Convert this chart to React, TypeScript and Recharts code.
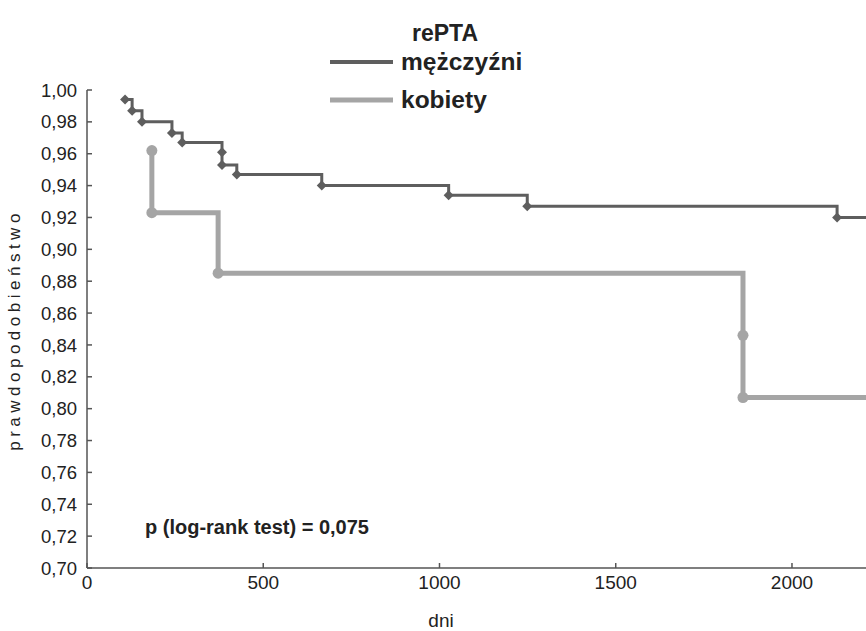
import React from "react";
import { ComposedChart, Line, XAxis, YAxis } from "recharts";

// Kaplan-Meier, rePTA: days vs. survival probability
const MEN_DAYS = [108, 128, 156, 241, 270, 383, 383, 425, 666, 1026, 1249, 2128, 2210];
const MEN_SURV = [0.994, 0.987, 0.98, 0.973, 0.967, 0.961, 0.953, 0.947, 0.94, 0.934, 0.927, 0.92, 0.92];

const WOMEN_DAYS = [184, 184, 372, 1861, 1861, 2210];
const WOMEN_SURV = [0.962, 0.923, 0.885, 0.846, 0.807, 0.807];

const X_TICKS = [0, 500, 1000, 1500, 2000];
const Y_TICKS = [0.7, 0.72, 0.74, 0.76, 0.78, 0.8, 0.82, 0.84, 0.86, 0.88, 0.9, 0.92, 0.94, 0.96, 0.98, 1.0];

const MEN_COLOR = "#5e5e5e";
const WOMEN_COLOR = "#a5a5a5";
const TEXT = "#222";
const FONT = "'Liberation Sans', Arial, sans-serif";

const men = MEN_DAYS.map((d, i) => ({ day: d, s: MEN_SURV[i] }));
const women = WOMEN_DAYS.map((d, i) => ({ day: d, s: WOMEN_SURV[i] }));

const diamondDot = (last: number) => (props: any) => {
  const { cx, cy, index } = props;
  if (index >= last) return <g key={`m${index}`} />;
  return (
    <path
      key={`m${index}`}
      d={`M${cx},${cy - 5} L${cx + 5},${cy} L${cx},${cy + 5} L${cx - 5},${cy} Z`}
      fill={MEN_COLOR}
    />
  );
};

const circleDot = (last: number) => (props: any) => {
  const { cx, cy, index } = props;
  if (index >= last) return <g key={`w${index}`} />;
  return <circle key={`w${index}`} cx={cx} cy={cy} r={5.5} fill={WOMEN_COLOR} />;
};

export default function App() {
  return (
    <div style={{ position: "absolute", left: 0, top: 0, width: 866, height: 631, background: "#fff", fontFamily: FONT }}>
      <ComposedChart width={866} height={631} margin={{ top: 90, right: 0, bottom: 0, left: 0 }}>
        <XAxis
          type="number"
          dataKey="day"
          domain={[0, 2210]}
          ticks={X_TICKS}
          allowDataOverflow
          height={63}
          tickSize={-5}
          tickMargin={13}
          stroke="#555"
          strokeWidth={1.5}
          tick={{ fill: TEXT, fontSize: 19, fontFamily: FONT }}
        />
        <YAxis
          type="number"
          dataKey="s"
          domain={[0.7, 1.0]}
          ticks={Y_TICKS}
          allowDataOverflow
          width={87}
          tickSize={-5}
          tickMargin={15}
          stroke="#555"
          strokeWidth={1.5}
          tickFormatter={(v: number) => v.toFixed(2).replace(".", ",")}
          tick={{ fill: TEXT, fontSize: 18.5, fontFamily: FONT }}
        />
        <Line
          data={women}
          dataKey="s"
          type="stepAfter"
          stroke={WOMEN_COLOR}
          strokeWidth={5}
          dot={circleDot(women.length - 1)}
          activeDot={false}
          isAnimationActive={false}
        />
        <Line
          data={men}
          dataKey="s"
          type="stepAfter"
          stroke={MEN_COLOR}
          strokeWidth={3}
          dot={diamondDot(men.length - 1)}
          activeDot={false}
          isAnimationActive={false}
        />
        <text x={445} y={41} textAnchor="middle" fontSize={23} fontWeight="bold" fill={TEXT} fontFamily={FONT}>
          rePTA
        </text>
        <line x1={330} x2={393} y1={62} y2={62} stroke={MEN_COLOR} strokeWidth={4} />
        <text x={401} y={70} fontSize={24.5} fontWeight="bold" fill={TEXT} fontFamily={FONT}>
          mężczyźni
        </text>
        <line x1={330} x2={393} y1={100} y2={100} stroke={WOMEN_COLOR} strokeWidth={5} />
        <text x={401} y={108} fontSize={24.5} fontWeight="bold" fill={TEXT} fontFamily={FONT}>
          kobiety
        </text>
        <text x={145} y={534} fontSize={20} fontWeight="bold" fill={TEXT} fontFamily={FONT}>
          p (log-rank test) = 0,075
        </text>
        <text x={441} y={627} textAnchor="middle" fontSize={19} fill={TEXT} fontFamily={FONT}>
          dni
        </text>
        <text
          x={20}
          y={330}
          textAnchor="middle"
          fontSize={17}
          letterSpacing={4.5}
          fill={TEXT}
          fontFamily={FONT}
          transform="rotate(-90 20 330)"
        >
          prawdopodobieństwo
        </text>
      </ComposedChart>
    </div>
  );
}
